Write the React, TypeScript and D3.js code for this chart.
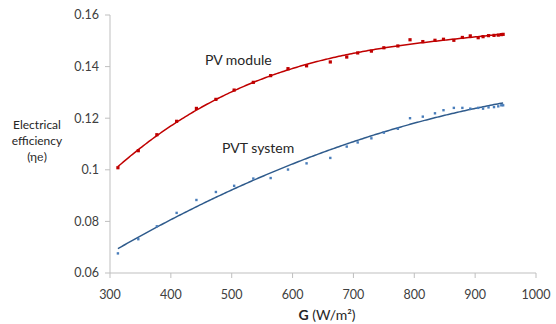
import React from "react";
import * as d3 from "d3";

const irradiance = [313, 346.5, 377, 409.5, 442, 474, 504, 535.5, 564, 592.5, 623, 662, 689, 707, 729.5, 750, 773, 793, 814, 834, 848, 865, 879, 892, 905, 913, 922, 931, 938, 943, 946];
const pvModule = [0.1008, 0.1074, 0.1136, 0.1188, 0.1238, 0.1273, 0.1309, 0.1339, 0.1365, 0.1392, 0.1403, 0.1418, 0.1437, 0.1453, 0.146, 0.1473, 0.148, 0.1504, 0.1497, 0.1502, 0.1506, 0.1502, 0.1513, 0.1519, 0.1512, 0.1516, 0.152, 0.1521, 0.1522, 0.1524, 0.1525];
const pvtSystem = [0.0676, 0.0731, 0.0781, 0.0833, 0.0883, 0.0914, 0.0938, 0.0966, 0.0968, 0.1001, 0.1025, 0.1046, 0.109, 0.1106, 0.1122, 0.1144, 0.1159, 0.12, 0.1206, 0.1219, 0.1231, 0.124, 0.124, 0.1237, 0.124, 0.1237, 0.1242, 0.1243, 0.1246, 0.125, 0.125];
const xTicks = [300, 400, 500, 600, 700, 800, 900, 1000];
const yTicks = [0.06, 0.08, 0.1, 0.12, 0.14, 0.16];

function polyFit(xs: number[], ys: number[], order: number) {
  const m = d3.mean(xs)!;
  const u = xs.map((x) => (x - m) / 100);
  const k = order + 1;
  const A: number[][] = [];
  for (let r = 0; r < k; r++) {
    const row: number[] = [];
    for (let c = 0; c < k; c++) row.push(d3.sum(u, (v) => v ** (r + c)));
    row.push(d3.sum(u.map((v, i) => ys[i] * v ** r)));
    A.push(row);
  }
  for (let c = 0; c < k; c++) {
    for (let r = c + 1; r < k; r++) {
      const f = A[r][c] / A[c][c];
      for (let j = c; j <= k; j++) A[r][j] -= f * A[c][j];
    }
  }
  const coef = new Array(k).fill(0);
  for (let r = k - 1; r >= 0; r--) {
    let s = A[r][k];
    for (let j = r + 1; j < k; j++) s -= A[r][j] * coef[j];
    coef[r] = s / A[r][r];
  }
  return (x: number) => {
    const v = (x - m) / 100;
    return coef.reduce((acc, c, i) => acc + c * v ** i, 0);
  };
}

export default function App() {
  const x = d3.scaleLinear().domain([300, 1000]).range([110, 536]);
  const y = d3.scaleLinear().domain([0.06, 0.16]).range([273, 15]);
  const font = "Lato, 'Open Sans', sans-serif";
  const axisColor = "#bfbfbf";
  const textColor = "#404040";

  const xs = d3.range(irradiance[0], irradiance[irradiance.length - 1] + 0.01, 3);
  const fitLine = (vals: number[], order: number) => {
    const f = polyFit(irradiance, vals, order);
    return d3.line<number>().x((g) => x(g)).y((g) => y(f(g)))(xs)!;
  };

  return (
    <svg width={556} height={324} style={{ position: "absolute", left: 0, top: 0, background: "#fff" }} fontFamily={font}>
      <line x1={x(300)} x2={x(300)} y1={y(0.16)} y2={y(0.06)} stroke={axisColor} />
      <line x1={x(300)} x2={x(1000)} y1={y(0.06)} y2={y(0.06)} stroke={axisColor} />
      {yTicks.map((t) => (
        <g key={t}>
          <line x1={x(300) - 5} x2={x(300)} y1={y(t)} y2={y(t)} stroke={axisColor} />
          <text x={99} y={y(t)} dy="0.35em" textAnchor="end" fontSize={12.5} fill={textColor}>
            {String(t)}
          </text>
        </g>
      ))}
      {xTicks.map((t) => (
        <g key={t}>
          <line x1={x(t)} x2={x(t)} y1={y(0.06)} y2={y(0.06) + 5} stroke={axisColor} />
          <text x={x(t)} y={295} dy="0.35em" textAnchor="middle" fontSize={12.5} fill={textColor}>
            {t}
          </text>
        </g>
      ))}
      <path d={fitLine(pvModule, 3)} fill="none" stroke="#c00000" strokeWidth={1.5} />
      <path d={fitLine(pvtSystem, 2)} fill="none" stroke="#2f5b8c" strokeWidth={1.5} />
      {irradiance.map((g, i) => (
        <rect key={"r" + i} x={x(g) - 1.6} y={y(pvModule[i]) - 1.6} width={3.2} height={3.2} fill="#c00000" />
      ))}
      {irradiance.map((g, i) => (
        <rect key={"b" + i} x={x(g) - 1.2} y={y(pvtSystem[i]) - 1.2} width={2.4} height={2.4} fill="#4a7ebb" />
      ))}
      <text x={205} y={65} fontSize={14} fill="#262626">PV module</text>
      <text x={222} y={153} fontSize={14} fill="#262626">PVT system</text>
      <g fontSize={12} fill="#262626" textAnchor="middle">
        <text x={37} y={125} dy="0.35em">Electrical</text>
        <text x={37} y={141} dy="0.35em">efficiency</text>
        <text x={37} y={157} dy="0.35em">
          (η<tspan fontFamily="'DejaVu Serif', serif" fontSize={11}>e</tspan>)
        </text>
      </g>
      <text x={327} y={315} dy="0.35em" textAnchor="middle" fontSize={14} fill="#262626">
        <tspan fontWeight="bold">G</tspan> (W/m²)
      </text>
    </svg>
  );
}
